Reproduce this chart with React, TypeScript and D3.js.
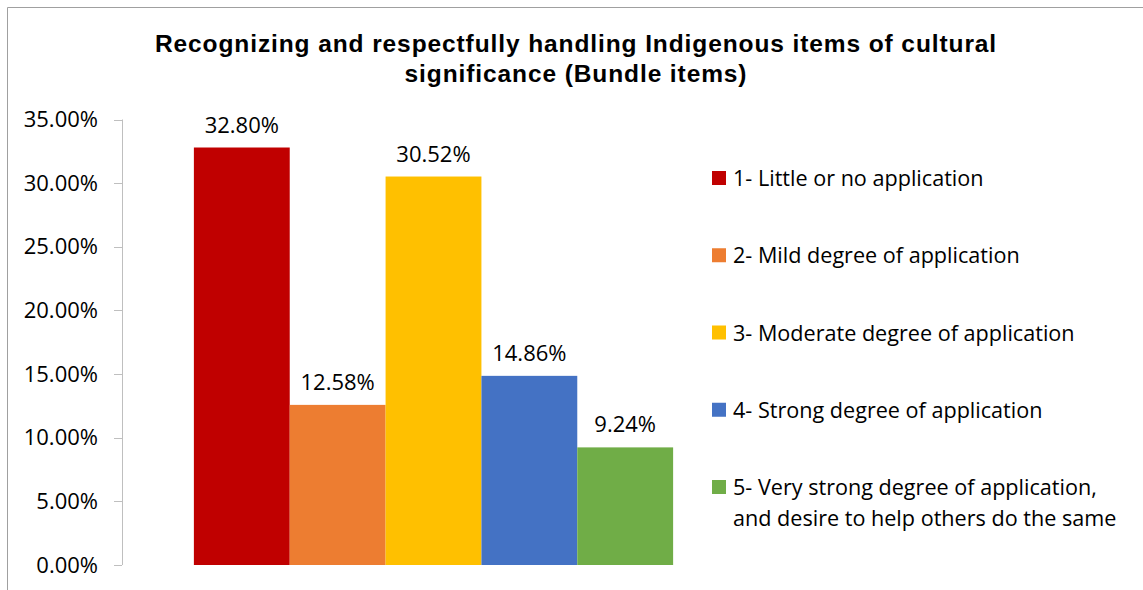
import React from "react";
import * as d3 from "d3";

const categories = [
  "1- Little or no application",
  "2- Mild degree of application",
  "3- Moderate degree of application",
  "4- Strong degree of application",
  "5- Very strong degree of application, and desire to help others do the same",
];
const legendLines = [
  ["1- Little or no application"],
  ["2- Mild degree of application"],
  ["3- Moderate degree of application"],
  ["4- Strong degree of application"],
  ["5- Very strong degree of application,", "and desire to help others do the same"],
];
const values = [0.328, 0.1258, 0.3052, 0.1486, 0.0924];
const colors = ["#C00000", "#ED7D31", "#FFC000", "#4472C4", "#70AD47"];
const yTicks = [0, 0.05, 0.1, 0.15, 0.2, 0.25, 0.3, 0.35];
const titleLines = [
  "Recognizing and respectfully handling Indigenous items of cultural",
  "significance (Bundle items)",
];

const FONT = "'Open Sans', 'Noto Sans', sans-serif";

export default function App() {
  const plotLeft = 122;
  const plotRight = 745;
  const plotTop = 119.5;
  const plotBottom = 565;
  const y = d3.scaleLinear().domain([0, 0.35]).range([plotBottom, plotTop]);
  const outer = d3.scaleBand().domain(["all"]).range([plotLeft, plotRight]).paddingInner(0).paddingOuter(0);
  const catW = outer.bandwidth();
  const barW = catW / (categories.length + 1.5);
  const x0 = (outer("all") as number) + barW * 0.75;
  const x = d3.scaleBand().domain(categories).range([x0, x0 + barW * categories.length]).padding(0);
  const fmt = d3.format(".2%");
  const legendY = d3.scalePoint().domain(categories).range([178, 487]);

  return (
    <svg width={1143} height={590} style={{ position: "absolute", left: 0, top: 0 }} fontFamily={FONT}>
      <rect x={0} y={0} width={1143} height={590} fill="#fff" />
      <path d="M7.5,600 V7.5 H1150" fill="none" stroke="#a0a0a0" strokeWidth={1} />
      {titleLines.map((t, i) => (
        <text key={i} x={576} y={52 + i * 30} textAnchor="middle" fontFamily="'Liberation Sans', Arial, sans-serif" fontWeight="bold" fontSize={24.5} letterSpacing={0.9} fill="#000">
          {t}
        </text>
      ))}
      <line x1={plotLeft + 0.5} x2={plotLeft + 0.5} y1={plotTop} y2={plotBottom} stroke="#bfbfbf" />
      {yTicks.map((t) => (
        <g key={t}>
          <line x1={114} x2={plotLeft} y1={Math.round(y(t)) + 0.5} y2={Math.round(y(t)) + 0.5} stroke="#bfbfbf" />
          <text x={98} y={y(t) + 7.5} textAnchor="end" fontSize={22} fill="#000">
            {fmt(t)}
          </text>
        </g>
      ))}
      {categories.map((c, i) => (
        <g key={c}>
          <rect x={x(c)} y={y(values[i])} width={x.bandwidth()} height={plotBottom - y(values[i])} fill={colors[i]} />
          <text x={(x(c) as number) + x.bandwidth() / 2} y={y(values[i]) - 15} textAnchor="middle" fontSize={22} fill="#000">
            {fmt(values[i])}
          </text>
        </g>
      ))}
      {categories.map((c, i) => (
        <g key={c}>
          <rect x={712} y={(legendY(c) as number) - 7} width={14} height={14} fill={colors[i]} />
          {legendLines[i].map((l, j) => (
            <text key={j} x={733} y={(legendY(c) as number) + 8 + j * 31} fontSize={21.6} fill="#000">
              {l}
            </text>
          ))}
        </g>
      ))}
    </svg>
  );
}
